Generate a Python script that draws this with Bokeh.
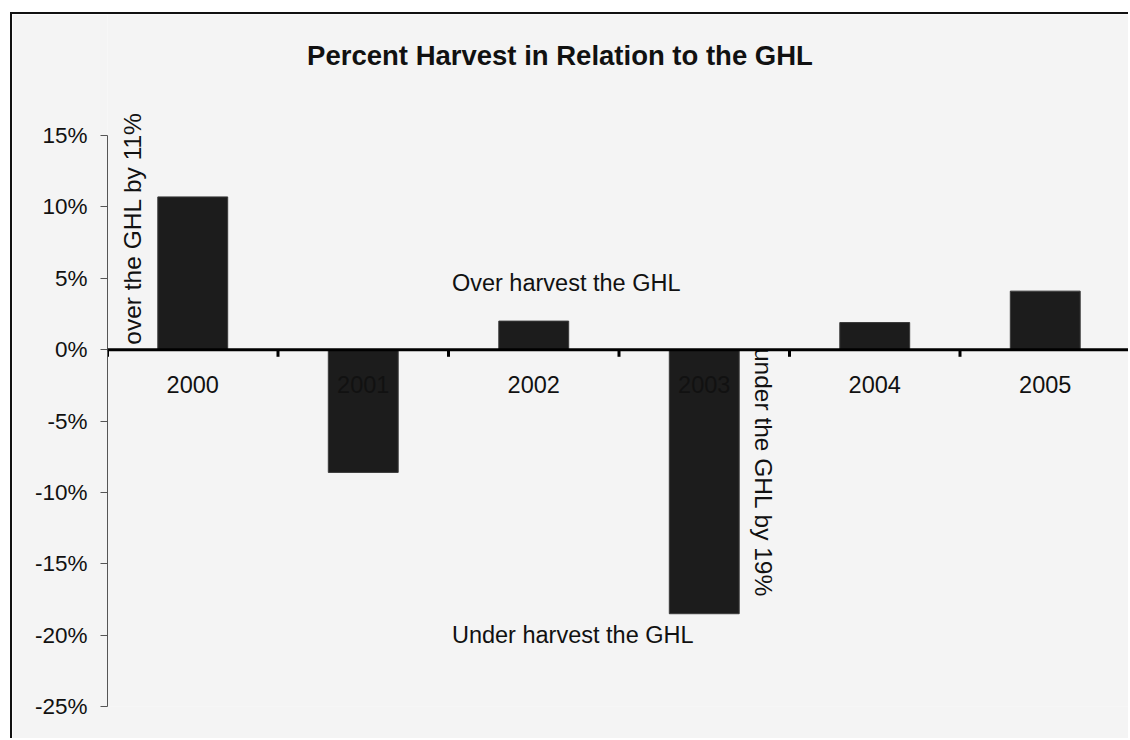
from bokeh.plotting import figure
from bokeh.models import Range1d, FixedTicker, PrintfTickFormatter, Span
from bokeh.core.properties import value
from bokeh.embed import file_html
from bokeh.resources import INLINE

# ---- data ----
years = ["2000", "2001", "2002", "2003", "2004", "2005"]
pct_vs_ghl = [10.7, -8.6, 2.0, -18.5, 1.9, 4.1]
y_ticks = [-25, -20, -15, -10, -5, 0, 5, 10, 15]
chart_title = "Percent Harvest in Relation to the GHL"
title_x = [2.654]
title_y = [20.6]

notes = ["Over harvest the GHL", "Under harvest the GHL"]
note_x = [2.02, 2.02]
note_y = [4.7, -20.0]

vnotes = ["over the GHL by 11%", "under the GHL by 19%"]
vnote_x = [0.147, 3.848]
vnote_y = [0.35, 0.12]
vnote_angle = [90, -90]

FONT = "Liberation Sans"
BG = "#f4f4f4"

# layout: plot area extends above the 15% tick to hold the title (axis itself is bounded)
Y_TOP = 23.48

centers = [i + 0.5 for i in range(len(years))]
bounds = list(range(len(years) + 1))

p = figure(width=1118, height=726,
           x_range=Range1d(0, len(years)), y_range=Range1d(min(y_ticks), Y_TOP),
           output_backend="svg", toolbar_location=None,
           min_border_left=95, min_border_right=0, min_border_top=0, min_border_bottom=34,
           background_fill_color=BG, border_fill_color=BG, outline_line_color=None)
p.margin = (12, 0, 0, 10)
p.styles = {"border-left": "2px solid #111", "border-top": "2px solid #111"}

p.xgrid.visible = False
p.ygrid.visible = False
p.xaxis.visible = False

ax = p.yaxis[0]
ax.bounds = (min(y_ticks), max(y_ticks))
ax.ticker = FixedTicker(ticks=y_ticks)
ax.formatter = PrintfTickFormatter(format="%d%%")
ax.axis_line_color = "#555"
ax.axis_line_width = 1
ax.major_tick_line_color = "#555"
ax.major_tick_out = 7
ax.major_tick_in = 0
ax.minor_tick_line_color = None
ax.major_label_text_font = FONT
ax.major_label_text_font_size = "22.5px"
ax.major_label_text_color = "#111"
ax.major_label_standoff = 13

# title
p.text(x=title_x, y=title_y, text=[chart_title],
       text_font=value(FONT), text_font_style="bold", text_font_size=value("27.5px"),
       text_color="#111", text_align="center", text_baseline="middle")

# bars
p.vbar(x=centers, top=pct_vs_ghl, bottom=0, width=0.41,
       fill_color="#1c1c1c", line_color="#3a3a3a", line_width=1)

# category labels (drawn over bars like the original)
p.text(x=centers, y=[-2.41] * len(years), text=years,
       text_font=value(FONT), text_font_size=value("23.5px"), text_color="#111",
       text_align="center", text_baseline="middle")

# zero axis line and category boundary ticks
p.add_layout(Span(location=0, dimension="width", line_color="black", line_width=3))
p.segment(x0=bounds, y0=[0] * len(bounds), x1=bounds, y1=[-0.5] * len(bounds),
          line_color="black", line_width=3)

# annotations
p.text(x=note_x, y=note_y, text=notes,
       text_font=value(FONT), text_font_size=value("23.5px"), text_color="#111",
       text_align="left", text_baseline="middle")
p.text(x=vnote_x, y=vnote_y, text=vnotes, angle=vnote_angle, angle_units="deg",
       text_font=value(FONT), text_font_size=value("24.5px"), text_color="#111",
       text_align="left", text_baseline="middle")

open("out.html", "w").write(file_html(p, INLINE))
